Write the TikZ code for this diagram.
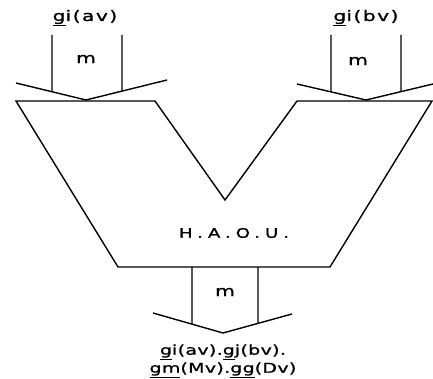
\documentclass[tikz,border=0pt]{standalone}
\usepackage{fontspec}
\setmainfont{DejaVu Sans}
\newfontfamily\lblfont[FakeStretch=1.4, FakeBold=1.2, LetterSpace=10]{DejaVu Sans}
\newfontfamily\outfont[FakeStretch=1.4, FakeBold=1.2, LetterSpace=3]{DejaVu Sans}
\newfontfamily\unitfont[FakeStretch=1.4, FakeBold=1.2, LetterSpace=38]{DejaVu Sans}
\usetikzlibrary{positioning,calc}

\begin{document}
\begin{tikzpicture}[x=1pt,y=-1pt,
          edge/.style={black, line width=1.4pt, line join=miter},
          bus/.style={black, line width=1.4pt},
          lbl/.style={inner sep=0pt, font=\fontsize{14.5}{16}\selectfont\lblfont},
          outlbl/.style={inner sep=0pt, align=center, font=\fontsize{13.5}{18}\selectfont\outfont},
          unit/.style={inner sep=0pt, font=\fontsize{13}{15}\selectfont\unitfont}
        ]
          \useasboundingbox (0,0) rectangle (433,379);

          % Rechenwerk
          \coordinate (tl) at (16,101);
          \coordinate (vl) at (155,101);
          \coordinate (vb) at (225,200);
          \coordinate (vr) at (297,101);
          \coordinate (tr) at (432,101);
          \coordinate (br) at (330,267);
          \coordinate (bl) at (118,267);
          \draw[edge] (tl) -- (vl) -- (vb) -- (vr) -- (tr) -- (br) -- (bl) -- cycle;
          \node[unit] (alu) at (234,233) {H.A.O.U.};

          % Eingang links
          \coordinate (a1) at (16,83);
          \coordinate (ap) at (86,100);
          \coordinate (a2) at (167,80);
          \draw[bus] (a1) -- (ap) -- (a2);
          \draw[bus] (52,35) -- ($(a1)!{(52-16)/70}!(ap)$);
          \draw[bus] (122,35) -- ($(ap)!{(122-86)/81}!(a2)$);
          \node[lbl] (ina) at (85,18) {\underline{g}i(av)};
          \node[lbl] (ma) at (86,59) {m};

          % Eingang rechts
          \coordinate (b1) at (297,84);
          \coordinate (bp) at (366,100);
          \coordinate (b2) at (433,84);
          \draw[bus] (b1) -- (bp) -- (b2);
          \draw[bus] (331,35) -- ($(b1)!{(331-297)/69}!(bp)$);
          \draw[bus] (401,35) -- ($(bp)!{(401-366)/67}!(b2)$);
          \node[lbl] (inb) at (366,18) {\underline{g}i(bv)};
          \node[lbl] (mb) at (358,61) {m};

          % Ausgang
          \coordinate (c1) at (153,313);
          \coordinate (cp) at (223,333);
          \coordinate (c2) at (292,314);
          \draw[bus] (c1) -- (cp) -- (c2);
          \draw[bus] (192,267) -- ($(c1)!{(192-153)/70}!(cp)$);
          \draw[bus] (258,267) -- ($(cp)!{(258-223)/69}!(c2)$);
          \node[lbl] (mc) at (225,292) {m};
          \node[outlbl] (out) at (223,361) {\underline{g}i(av).\underline{g}j(bv).\\\underline{gm}(Mv).\underline{gg}(Dv)};
        \end{tikzpicture}
\end{document}
